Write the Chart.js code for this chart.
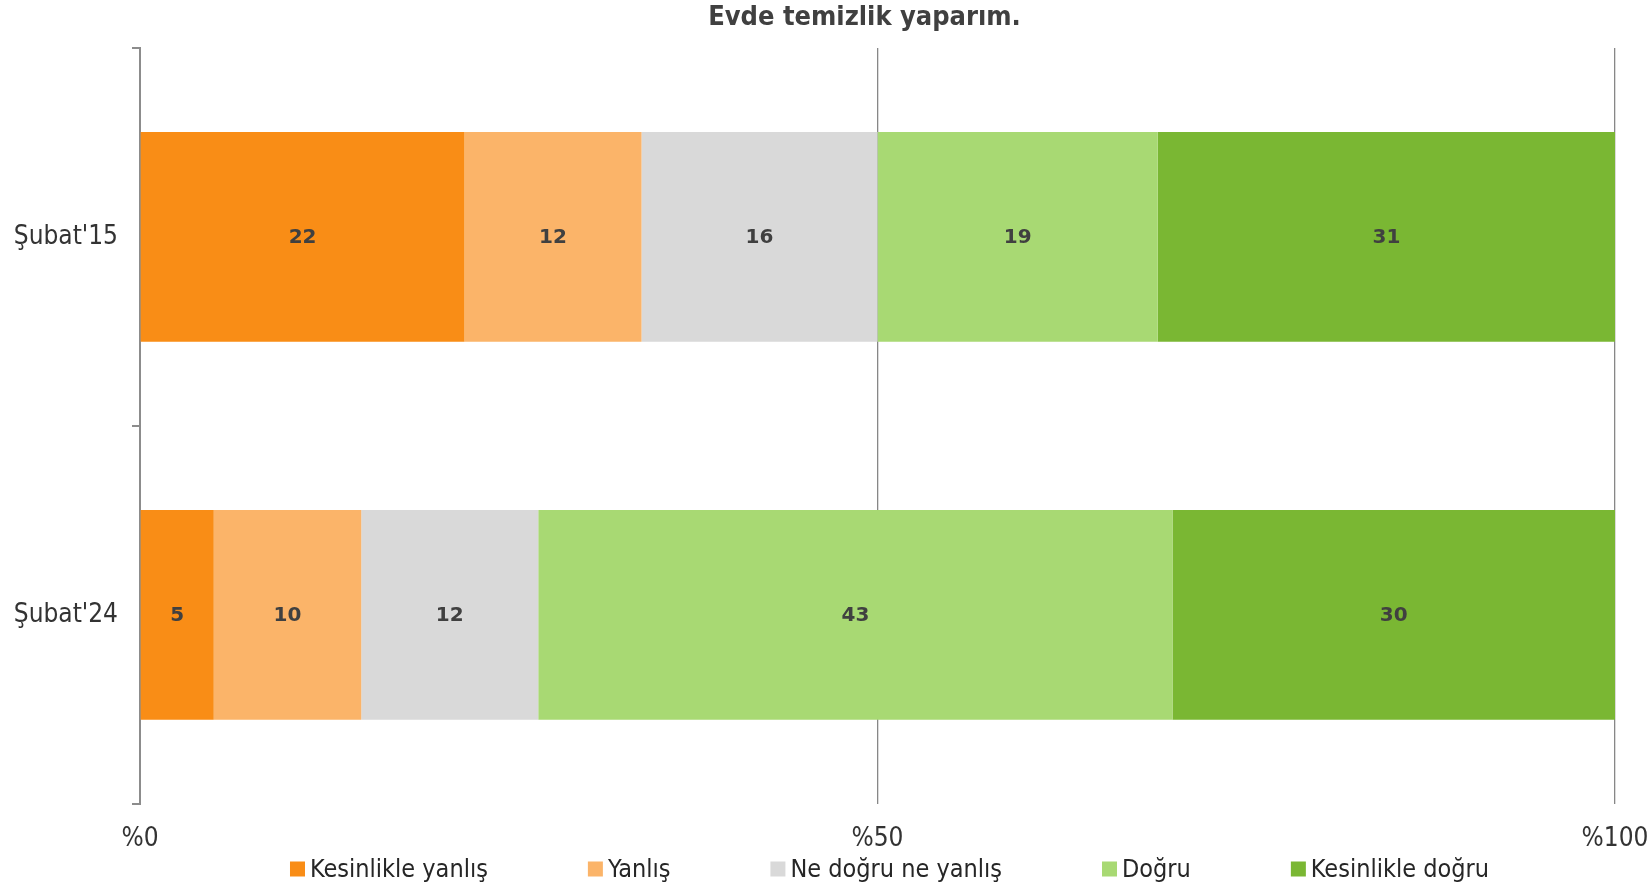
<!DOCTYPE html>
<html>
<head>
<meta charset="utf-8">
<script src="https://cdn.jsdelivr.net/npm/chart.js@4/dist/chart.umd.min.js"></script>
<style>
  html, body { margin: 0; padding: 0; background: #fff; }
  #wrap { width: 1652px; height: 885px; }
</style>
</head>
<body>
<div id="wrap"><canvas id="evdeChart"></canvas></div>
<script>
const categories = ["Şubat'15", "Şubat'24"];
const seriesNames = ['Kesinlikle yanlış', 'Yanlış', 'Ne doğru ne yanlış', 'Doğru', 'Kesinlikle doğru'];
const kesinlikleYanlis = [22, 5];
const yanlis = [12, 10];
const neDogruNeYanlis = [16, 12];
const dogru = [19, 43];
const kesinlikleDogru = [31, 30];
const xTicks = [0, 50, 100];
const titleText = 'Evde temizlik yaparım.';

const colors = ['#F98D16', '#FBB469', '#D9D9D9', '#A8D973', '#7AB733'];
const narrow = "'DejaVu Sans Condensed', sans-serif";

// values written in the middle of each segment
const valueLabels = {
    id: 'valueLabels',
    afterDatasetsDraw(chart) {
        const c = chart.ctx;
        c.save();
        c.font = "bold 20px 'DejaVu Sans', sans-serif";
        c.fillStyle = '#404040';
        c.textAlign = 'center';
        c.textBaseline = 'middle';
        chart.data.datasets.forEach((ds, i) => {
            chart.getDatasetMeta(i).data.forEach((bar, j) => {
                const p = bar.getCenterPoint();
                c.fillText(ds.data[j], p.x, p.y + 1);
            });
        });
        c.restore();
    }
};

// title sits a bit left of the plot centre, like the original
const topTitle = {
    id: 'topTitle',
    afterDraw(chart) {
        const c = chart.ctx;
        const area = chart.chartArea;
        c.save();
        c.font = 'bold 27px ' + narrow;
        c.fillStyle = '#404040';
        c.textAlign = 'center';
        c.textBaseline = 'middle';
        c.fillText(titleText, (area.left + area.right) / 2 - 13, 18);
        c.restore();
    }
};

// excel style legend, one row under the axis
const bottomLegend = {
    id: 'bottomLegend',
    afterDraw(chart) {
        const c = chart.ctx;
        const area = chart.chartArea;
        const box = 15, gapText = 5, gapItem = 100;
        c.save();
        c.font = '25px ' + narrow;
        c.textBaseline = 'middle';
        const items = chart.data.datasets.map(ds => ({
            text: ds.label,
            color: ds.backgroundColor,
            w: box + gapText + c.measureText(ds.label).width
        }));
        const total = items.reduce((s, it) => s + it.w, 0) + gapItem * (items.length - 1);
        let x = (area.left + area.right) / 2 + 12 - total / 2;
        const y = 869;
        items.forEach(it => {
            c.fillStyle = it.color;
            c.fillRect(x, y - box / 2, box, box);
            c.fillStyle = '#262626';
            c.fillText(it.text, x + box + gapText, y + 1);
            x += it.w + gapItem;
        });
        c.restore();
    }
};

const series = [kesinlikleYanlis, yanlis, neDogruNeYanlis, dogru, kesinlikleDogru];

new Chart(document.getElementById('evdeChart'), {
    type: 'bar',
    data: {
        labels: categories,
        datasets: series.map((d, i) => ({
            label: seriesNames[i],
            data: d,
            backgroundColor: colors[i],
            borderWidth: 0,
            barPercentage: 0.555,
            categoryPercentage: 1
        }))
    },
    options: {
        indexAxis: 'y',
        responsive: true,
        maintainAspectRatio: false,
        animation: false,
        layout: {
            padding: { left: 0, right: 37, top: 48, bottom: 10 }
        },
        plugins: {
            legend: { display: false },
            tooltip: { enabled: false },
            title: { display: false }
        },
        scales: {
            x: {
                stacked: true,
                min: 0,
                max: 100,
                afterBuildTicks: (s) => { s.ticks = xTicks.map(v => ({ value: v })); },
                afterFit: (s) => { s.paddingLeft = 0; s.paddingRight = 0; },
                border: { display: false },
                grid: { color: '#878787', lineWidth: 1.3, drawTicks: false },
                ticks: {
                    padding: 20,
                    color: '#333333',
                    font: { family: narrow, size: 26 },
                    callback: (v) => '%' + v
                }
            },
            y: {
                stacked: true,
                afterFit: (s) => { s.width = 140; },
                border: { display: true, color: '#8C8C8C', width: 2 },
                grid: { offset: true, drawOnChartArea: false, drawTicks: true, tickLength: 8, color: '#8C8C8C', lineWidth: 2 },
                ticks: {
                    padding: 14,
                    color: '#333333',
                    font: { family: narrow, size: 26 }
                }
            }
        }
    },
    plugins: [valueLabels, topTitle, bottomLegend]
});
</script>
</body>
</html>
